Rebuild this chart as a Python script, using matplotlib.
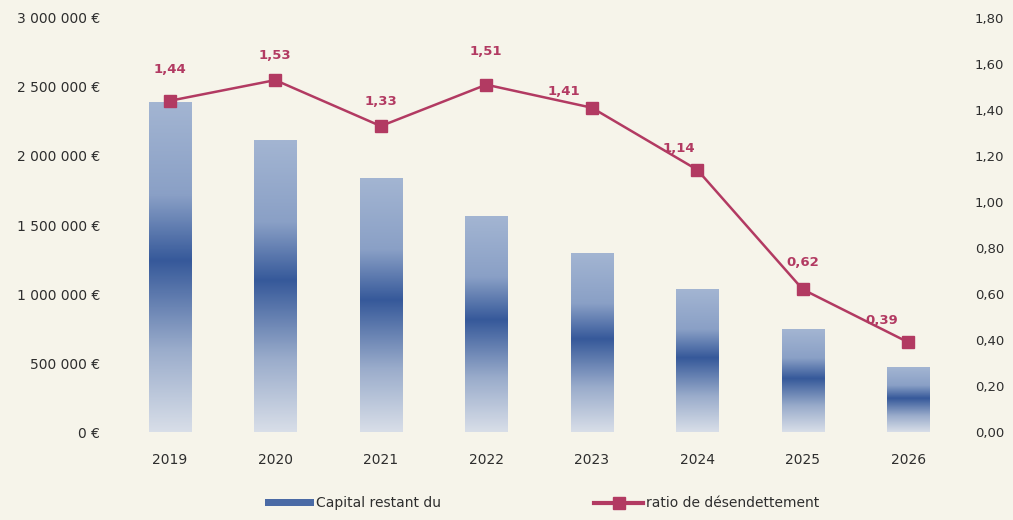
import matplotlib
matplotlib.use("Agg")
import matplotlib.pyplot as plt
import numpy as np
from matplotlib.colors import LinearSegmentedColormap
from matplotlib.lines import Line2D
from matplotlib.patches import Patch

years = ["2019", "2020", "2021", "2022", "2023", "2024", "2025", "2026"]
capital = [2385000, 2115000, 1835000, 1560000, 1295000, 1030000, 745000, 470000]
ratio = [1.44, 1.53, 1.33, 1.51, 1.41, 1.14, 0.62, 0.39]
ratio_labels = ["1,44", "1,53", "1,33", "1,51", "1,41", "1,14", "0,62", "0,39"]
left_ticks = [0, 500000, 1000000, 1500000, 2000000, 2500000, 3000000]
right_ticks = [0.0, 0.2, 0.4, 0.6, 0.8, 1.0, 1.2, 1.4, 1.6, 1.8]

# label offsets in points (some labels sit left of the marker)
label_offsets = [(0, 18), (0, 13), (0, 13), (0, 19), (-20, 7), (-13, 11), (0, 15), (-19, 11)]

bg = "#f6f4ea"
line_col = "#b23a62"
txt_col = "#2e2e2e"

plt.rcParams["font.family"] = ["DejaVu Sans"]

fig = plt.figure(figsize=(10.13, 5.2), dpi=100, facecolor=bg)
ax = fig.add_axes([0.1155, 0.1692, 0.8332, 0.7962], facecolor=bg)

x = np.arange(len(years))
bars = ax.bar(x, capital, width=0.4, color="none", edgecolor="none")

cmap = LinearSegmentedColormap.from_list(
    "grad", [(0.0, "#d8dee8"), (0.25, "#9aaccb"), (0.52, "#36599a"), (0.72, "#8aa0c6"), (1.0, "#a3b5d2")])
grad = np.linspace(0, 1, 256).reshape(-1, 1)
for b in bars:
    x0, w, h = b.get_x(), b.get_width(), b.get_height()
    ax.imshow(grad, cmap=cmap, extent=[x0, x0 + w, 0, h], origin="lower",
              aspect="auto", zorder=2)

ax.set_xlim(-0.5, len(years) - 0.5)
ax.set_ylim(0, 3000000)
ax.set_yticks(left_ticks)
ax.set_yticklabels([f"{v:,} €".replace(",", " ") for v in left_ticks])
ax.set_xticks(x)
ax.set_xticklabels(years)
ax.tick_params(length=0, colors=txt_col, labelsize=10)
ax.tick_params(axis="x", pad=15)
ax.tick_params(axis="y", pad=12)
for s in ax.spines.values():
    s.set_visible(False)

ax2 = ax.twinx()
ax2.plot(x, ratio, color=line_col, lw=1.8, marker="s", ms=8, mfc=line_col, mec=line_col, zorder=5)
ax2.set_ylim(0, 1.8)
ax2.set_yticks(right_ticks)
ax2.set_yticklabels([f"{v:.2f}".replace(".", ",") for v in right_ticks])
ax2.tick_params(length=0, colors=txt_col, labelsize=9.5, pad=10)
for s in ax2.spines.values():
    s.set_visible(False)

for xi, yi, lab, off in zip(x, ratio, ratio_labels, label_offsets):
    ax2.annotate(lab, (xi, yi), xytext=off, textcoords="offset points",
                 ha="center", va="bottom", color=line_col, fontsize=9.5, fontweight="bold")

handles = [Patch(facecolor="#4a6aa5", edgecolor="none"),
           Line2D([0], [0], color=line_col, lw=3, marker="s", ms=9)]
fig.legend(handles, ["Capital restant du", "ratio de désendettement"],
           loc="lower center", bbox_to_anchor=(0.535, -0.005), ncol=2, frameon=False,
           fontsize=10, columnspacing=11, handlelength=3.5, handleheight=0.4,
           handletextpad=0.2, labelcolor=txt_col)

fig.savefig("out.png", dpi=100, facecolor=bg)
